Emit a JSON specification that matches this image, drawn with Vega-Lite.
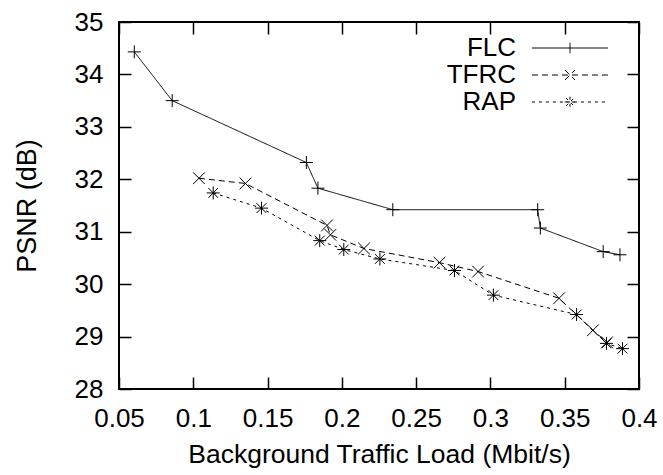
{
  "$schema": "https://vega.github.io/schema/vega-lite/v6.json",
  "width": 520,
  "height": 367,
  "autosize": {"type": "none"},
  "padding": {"left": 119, "top": 22, "right": 24, "bottom": 86},
  "background": "white",
  "config": {
    "font": "Liberation Sans",
    "view": {"stroke": "black", "strokeWidth": 2},
    "axis": {
      "grid": false,
      "domain": false,
      "tickColor": "black",
      "tickWidth": 1.5,
      "tickSize": -12,
      "labelColor": "black",
      "labelFont": "Liberation Sans",
      "labelFontSize": 26,
      "titleFont": "Liberation Sans",
      "titleFontSize": 26.5,
      "titleFontWeight": "normal",
      "titleColor": "black"
    }
  },
  "data": {
    "values": [
      {"series": "FLC", "load": 0.0603, "psnr": 34.43},
      {"series": "FLC", "load": 0.0858, "psnr": 33.50},
      {"series": "FLC", "load": 0.1761, "psnr": 32.32},
      {"series": "FLC", "load": 0.1839, "psnr": 31.83},
      {"series": "FLC", "load": 0.2343, "psnr": 31.42},
      {"series": "FLC", "load": 0.3318, "psnr": 31.42},
      {"series": "FLC", "load": 0.3336, "psnr": 31.07},
      {"series": "FLC", "load": 0.3759, "psnr": 30.62},
      {"series": "FLC", "load": 0.3872, "psnr": 30.56},
      {"series": "TFRC", "load": 0.1038, "psnr": 32.02},
      {"series": "TFRC", "load": 0.1351, "psnr": 31.92},
      {"series": "TFRC", "load": 0.1900, "psnr": 31.12},
      {"series": "TFRC", "load": 0.1923, "psnr": 30.94},
      {"series": "TFRC", "load": 0.2149, "psnr": 30.68},
      {"series": "TFRC", "load": 0.2657, "psnr": 30.41},
      {"series": "TFRC", "load": 0.2917, "psnr": 30.24},
      {"series": "TFRC", "load": 0.3462, "psnr": 29.73},
      {"series": "TFRC", "load": 0.3690, "psnr": 29.12},
      {"series": "TFRC", "load": 0.3785, "psnr": 28.89},
      {"series": "RAP", "load": 0.1134, "psnr": 31.74},
      {"series": "RAP", "load": 0.1459, "psnr": 31.45},
      {"series": "RAP", "load": 0.1851, "psnr": 30.83},
      {"series": "RAP", "load": 0.2013, "psnr": 30.66},
      {"series": "RAP", "load": 0.2256, "psnr": 30.48},
      {"series": "RAP", "load": 0.2758, "psnr": 30.26},
      {"series": "RAP", "load": 0.3020, "psnr": 29.79},
      {"series": "RAP", "load": 0.3580, "psnr": 29.42},
      {"series": "RAP", "load": 0.3781, "psnr": 28.87},
      {"series": "RAP", "load": 0.3889, "psnr": 28.77}
    ]
  },
  "layer": [
    {
      "mark": {"type": "line", "color": "black", "strokeWidth": 1},
      "encoding": {
        "x": {
          "field": "load", "type": "quantitative",
          "scale": {"domain": [0.05, 0.4], "nice": false, "zero": false},
          "axis": {"values": [0.05, 0.1, 0.15, 0.2, 0.25, 0.3, 0.35, 0.4], "format": "~g", "labelPadding": 28, "title": "Background Traffic Load (Mbit/s)", "titlePadding": 10, "labelFlush": false}
        },
        "y": {
          "field": "psnr", "type": "quantitative",
          "scale": {"domain": [28, 35], "nice": false, "zero": false},
          "axis": {"values": [28, 29, 30, 31, 32, 33, 34, 35], "labelPadding": 28, "title": "PSNR (dB)", "titleFontSize": 27, "titlePadding": 33, "labelFlush": false}
        },
        "strokeDash": {
          "field": "series", "type": "nominal",
          "scale": {"domain": ["FLC", "TFRC", "RAP"], "range": [[1, 0], [6, 4], [3, 4]]},
          "legend": {
            "orient": "none",
            "legendX": 437,
            "legendY": 12,
            "title": null,
            "padding": 0,
            "rowPadding": -6,
            "symbolSize": 690,
            "symbolStrokeWidth": 1,
            "symbolStrokeColor": "black",
            "symbolFillColor": "transparent",
            "labelFont": "Liberation Sans",
            "labelFontSize": 26,
            "labelColor": "black",
            "labelAlign": "right",
            "labelOffset": -68,
            "encode": {
              "symbols": {
                "update": {
                  "shape": {"signal": "datum.value === 'FLC' ? 'M0,-0.4V0.4M-2.9,0H2.9' : datum.value === 'TFRC' ? 'M-0.38,-0.38L0.38,0.38M-0.38,0.38L0.38,-0.38M-2.9,0H2.9' : 'M0,-0.4V0.4M-0.4,0H0.4M-0.3,-0.3L0.3,0.3M-0.3,0.3L0.3,-0.3M-2.9,0H2.9'"}
                }
              }
            }
          }
        },
        "detail": {"field": "series"}
      }
    },
    {
      "transform": [{"filter": {"field": "series", "equal": "FLC"}}],
      "mark": {"type": "point", "shape": "M-1,0H1M0,-1V1", "filled": false, "stroke": "black", "strokeWidth": 1, "size": 169, "opacity": 1},
      "encoding": {
        "x": {
          "field": "load", "type": "quantitative",
          "scale": {"domain": [0.05, 0.4], "nice": false, "zero": false},
          "axis": {"orient": "top", "values": [0.05, 0.1, 0.15, 0.2, 0.25, 0.3, 0.35, 0.4], "labels": false, "title": null}
        },
        "y": {
          "field": "psnr", "type": "quantitative",
          "scale": {"domain": [28, 35], "nice": false, "zero": false},
          "axis": {"orient": "right", "values": [28, 29, 30, 31, 32, 33, 34, 35], "labels": false, "title": null}
        }
      }
    },
    {
      "transform": [{"filter": {"field": "series", "equal": "TFRC"}}],
      "mark": {"type": "point", "shape": "M-0.9,-0.9L0.9,0.9M-0.9,0.9L0.9,-0.9", "filled": false, "stroke": "black", "strokeWidth": 1, "size": 169, "opacity": 1},
      "encoding": {
        "x": {"field": "load", "type": "quantitative", "axis": null},
        "y": {"field": "psnr", "type": "quantitative", "axis": null}
      }
    },
    {
      "transform": [{"filter": {"field": "series", "equal": "RAP"}}],
      "mark": {"type": "point", "shape": "M-1,0H1M0,-1V1M-0.75,-0.75L0.75,0.75M-0.75,0.75L0.75,-0.75", "filled": false, "stroke": "black", "strokeWidth": 1, "size": 169, "opacity": 1},
      "encoding": {
        "x": {"field": "load", "type": "quantitative", "axis": null},
        "y": {"field": "psnr", "type": "quantitative", "axis": null}
      }
    }
  ],
  "resolve": {"axis": {"x": "independent", "y": "independent"}}
}
